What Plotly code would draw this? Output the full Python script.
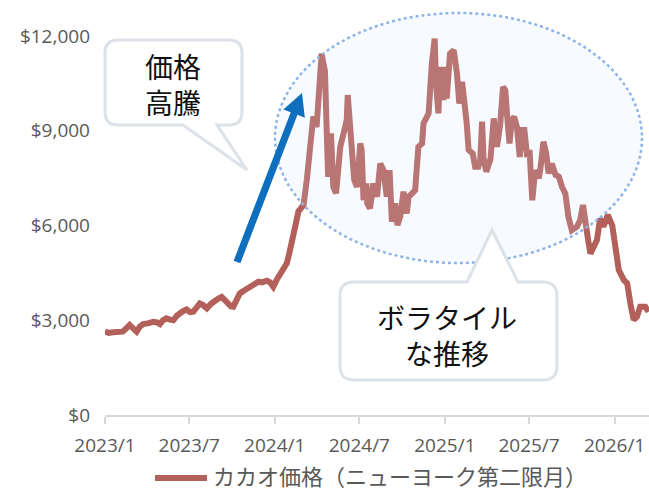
import math
import plotly.graph_objects as go

# ---------------- data ----------------
dates = [
    "2023-01-01", "2023-01-09", "2023-01-18", "2023-01-29", "2023-02-08", "2023-02-17", "2023-02-23",
    "2023-03-02", "2023-03-10", "2023-03-17", "2023-03-24", "2023-04-03", "2023-04-15", "2023-04-23",
    "2023-04-29", "2023-05-05", "2023-05-13", "2023-05-21", "2023-05-28", "2023-06-05", "2023-06-11",
    "2023-06-18", "2023-06-25", "2023-07-03", "2023-07-10", "2023-07-18", "2023-07-24", "2023-07-31",
    "2023-08-08", "2023-08-17", "2023-08-25", "2023-09-01", "2023-09-09", "2023-09-16", "2023-09-23",
    "2023-09-29", "2023-10-04", "2023-10-12", "2023-10-18", "2023-10-29", "2023-11-09", "2023-11-17",
    "2023-11-27", "2023-12-05", "2023-12-15", "2023-12-22", "2023-12-29",
    "2024-01-06", "2024-01-12", "2024-01-19", "2024-01-27", "2024-02-01", "2024-02-05", "2024-02-10",
    "2024-02-14", "2024-02-21", "2024-02-27", "2024-03-03", "2024-03-10", "2024-03-17", "2024-03-24",
    "2024-03-31", "2024-04-04", "2024-04-08", "2024-04-11", "2024-04-15", "2024-04-18", "2024-04-22",
    "2024-04-25", "2024-05-01", "2024-05-06", "2024-05-12", "2024-05-17", "2024-05-21", "2024-05-28",
    "2024-06-04", "2024-06-06", "2024-06-11", "2024-06-15", "2024-06-20", "2024-06-26", "2024-07-03",
    "2024-07-06", "2024-07-10", "2024-07-16", "2024-07-18", "2024-07-24", "2024-07-31", "2024-08-08",
    "2024-08-15", "2024-08-22", "2024-08-29", "2024-09-04", "2024-09-09", "2024-09-16", "2024-09-21",
    "2024-09-27", "2024-10-04", "2024-10-11", "2024-10-15", "2024-10-22", "2024-10-29", "2024-11-05",
    "2024-11-13", "2024-11-16", "2024-11-27", "2024-12-04", "2024-12-10", "2024-12-13", "2024-12-18",
    "2024-12-22", "2024-12-29",
    "2025-01-02", "2025-01-05", "2025-01-12", "2025-01-20", "2025-01-27", "2025-02-01", "2025-02-07",
    "2025-02-12", "2025-02-17", "2025-02-21", "2025-03-02", "2025-03-07", "2025-03-14", "2025-03-18",
    "2025-03-22", "2025-03-25", "2025-03-31", "2025-04-09", "2025-04-12", "2025-04-16", "2025-04-23",
    "2025-04-30", "2025-05-06", "2025-05-11", "2025-05-15", "2025-05-20", "2025-05-25", "2025-05-30",
    "2025-06-05", "2025-06-11", "2025-06-16", "2025-06-21", "2025-06-27", "2025-07-02", "2025-07-08",
    "2025-07-14", "2025-07-22", "2025-07-25", "2025-08-01", "2025-08-07", "2025-08-12", "2025-08-19",
    "2025-08-27", "2025-09-03", "2025-09-10", "2025-09-17", "2025-09-24", "2025-10-01", "2025-10-12",
    "2025-10-19", "2025-10-25", "2025-10-30", "2025-11-06", "2025-11-10", "2025-11-17", "2025-11-24",
    "2025-12-01", "2025-12-08", "2025-12-16", "2025-12-19", "2025-12-27",
    "2026-01-03", "2026-01-10", "2026-01-21", "2026-01-28", "2026-02-04", "2026-02-11", "2026-02-18",
    "2026-02-25", "2026-03-08", "2026-03-15",
]
cocoa_price = [
    2640, 2600, 2620, 2610, 2640, 2760, 2850,
    2750, 2640, 2800, 2880, 2900, 2950, 2930,
    2880, 2990, 3060, 3020, 3000, 3150, 3240,
    3290, 3340, 3260, 3270, 3420, 3530, 3480,
    3380, 3520, 3640, 3680, 3740, 3620, 3480,
    3440, 3430, 3640, 3850, 3960, 4060, 4150,
    4220, 4200, 4250, 4200, 4060,
    4300, 4430, 4650, 4800, 5100, 5440, 5640,
    5960, 6450, 6560, 6650, 7440, 8400, 9450,
    9120, 10300, 10900, 11440, 11100, 10900, 8920,
    7540, 8920, 7220, 7020, 7650, 8490, 8910,
    9340, 10130, 9340, 8700, 7440, 7220, 8600,
    8390, 6800, 7330, 6700, 6540, 7330, 6910,
    7960, 7750, 6910, 7750, 6120, 6700, 6010,
    6280, 7070, 6380, 6910, 7010, 7120, 8490,
    8600, 9230, 9550, 11130, 11920, 10500, 9550,
    11020, 9970,
    11020, 10020, 11440, 11550, 10810, 9860, 10550,
    9970, 9230, 8390, 8280, 7860, 7860, 8070,
    9290, 8170, 7700, 8100, 9020, 9390, 8490,
    9200, 10390, 10280, 9440, 8600, 9340, 9440,
    9120, 8170, 9020, 9020, 8170, 8390, 6800,
    7750, 7500, 7750, 8650, 8280, 7650, 7960,
    7600, 7550, 7220, 7010, 6250, 5850, 5960,
    6170, 6650, 6000, 5450, 5110, 5320, 5540,
    6220, 5960, 6280, 6280, 6000,
    5400, 4590, 4270, 4170, 3530, 3010, 3110,
    3430, 3430, 3270,
]
series_name = "カカオ価格（ニューヨーク第二限月）"
x_tick_dates = ["2023-01-01", "2023-07-01", "2024-01-01", "2024-07-01",
                "2025-01-01", "2025-07-01", "2026-01-01"]
x_tick_labels = ["2023/1", "2023/7", "2024/1", "2024/7", "2025/1", "2025/7", "2026/1"]
y_tick_values = [0, 3000, 6000, 9000, 12000]
y_tick_labels = ["$0", "$3,000", "$6,000", "$9,000", "$12,000"]
bubble_texts = ["価格<br>高騰", "ボラタイル<br>な推移"]

# ---------------- layout geometry ----------------
W, H = 649, 490
L, R, T, B = 105, 649, 36, 415   # plot area in screen pixels


def px(X):
    return (X - L) / (R - L)


def py(Y):
    return (B - Y) / (B - T)


def path_from(cmds, close=True):
    out = []
    for c in cmds:
        op = c[0]
        pts = c[1:]
        s = op
        for (X, Y) in pts:
            s += " %.5f,%.5f" % (px(X), py(Y))
        out.append(s)
    return " ".join(out) + (" Z" if close else "")


def bubble(x0, y0, x1, y1, r, tail_side, ta, tip, tb):
    cmds = [("M", (x0 + r, y0))]
    if tail_side == "top":
        cmds += [("L", (ta, y0)), ("L", tip), ("L", (tb, y0))]
    cmds += [("L", (x1 - r, y0)), ("Q", (x1, y0), (x1, y0 + r)),
             ("L", (x1, y1 - r)), ("Q", (x1, y1), (x1 - r, y1))]
    if tail_side == "bottom":
        cmds += [("L", (tb, y1)), ("L", tip), ("L", (ta, y1))]
    cmds += [("L", (x0 + r, y1)), ("Q", (x0, y1), (x0, y1 - r)),
             ("L", (x0, y0 + r)), ("Q", (x0, y0), (x0 + r, y0))]
    return path_from(cmds)


def arrow(tail, tip, shaft_hw, head_len, head_hw):
    dx, dy = tip[0] - tail[0], tip[1] - tail[1]
    ln = math.hypot(dx, dy)
    ux, uy = dx / ln, dy / ln
    nx, ny = -uy, ux
    bx, by = tip[0] - head_len * ux, tip[1] - head_len * uy
    pts = [
        (tail[0] + shaft_hw * nx, tail[1] + shaft_hw * ny),
        (bx + shaft_hw * nx, by + shaft_hw * ny),
        (bx + head_hw * nx, by + head_hw * ny),
        tip,
        (bx - head_hw * nx, by - head_hw * ny),
        (bx - shaft_hw * nx, by - shaft_hw * ny),
        (tail[0] - shaft_hw * nx, tail[1] - shaft_hw * ny),
    ]
    cmds = [("M", pts[0])] + [("L", p) for p in pts[1:]]
    return path_from(cmds)


LINE_COLOR = "#B4605A"
TEXT_GRAY = "#595959"
AXIS_GRAY = "#D9D9D9"
BUBBLE_EDGE = "#DCE2E7"
FONT = "Open Sans, Noto Sans CJK JP, sans-serif"
CJK = "Noto Sans CJK JP, sans-serif"

fig = go.Figure()
fig.add_trace(go.Scatter(
    x=dates, y=cocoa_price, mode="lines", name=series_name,
    line=dict(color=LINE_COLOR, width=6), showlegend=False,
))

shapes = [
    # volatility ellipse
    dict(type="circle", xref="paper", yref="paper",
         x0=px(275), x1=px(642), y0=py(263), y1=py(13),
         fillcolor="rgba(205,228,250,0.17)",
         line=dict(color="#8EB4E6", width=2.5, dash="dot"), layer="above"),
    # rising arrow
    dict(type="path", xref="paper", yref="paper",
         path=arrow((237, 262), (302, 93), 3.6, 22, 11.5),
         fillcolor="#0D6FBE", line=dict(width=0), layer="above"),
    # bubble 1
    dict(type="path", xref="paper", yref="paper",
         path=bubble(105, 40, 242, 125, 13, "bottom", 183, (247, 170), 217),
         fillcolor="white", line=dict(color=BUBBLE_EDGE, width=3), layer="above"),
    # bubble 2
    dict(type="path", xref="paper", yref="paper",
         path=bubble(340, 282, 557, 380, 14, "top", 467, (492, 230), 518),
         fillcolor="white", line=dict(color=BUBBLE_EDGE, width=3), layer="above"),
    # legend swatch
    dict(type="path", xref="paper", yref="paper",
         path=path_from([("M", (155, 478)), ("L", (207, 478))], close=False),
         line=dict(color=LINE_COLOR, width=6), layer="above"),
]

annotations = [
    dict(xref="paper", yref="paper", x=px(173), y=py(84), text=bubble_texts[0],
         showarrow=False, xanchor="center", yanchor="middle",
         font=dict(family=CJK, size=28, color="#111111")),
    dict(xref="paper", yref="paper", x=px(447), y=py(335), text=bubble_texts[1],
         showarrow=False, xanchor="center", yanchor="middle",
         font=dict(family=CJK, size=28, color="#111111")),
    # legend label
    dict(xref="paper", yref="paper", x=px(211), y=py(475), text=series_name,
         showarrow=False, xanchor="left", yanchor="middle",
         font=dict(family=CJK, size=22, color=TEXT_GRAY)),
]

fig.update_layout(
    width=W, height=H,
    margin=dict(l=L, r=W - R, t=T, b=H - B, autoexpand=False),
    paper_bgcolor="white", plot_bgcolor="white",
    font=dict(family=FONT, size=19, color=TEXT_GRAY),
    shapes=shapes, annotations=annotations,
    showlegend=False,
    xaxis=dict(
        type="date", range=["2023-01-01", "2026-03-16"],
        tickvals=x_tick_dates, ticktext=x_tick_labels,
        showgrid=False, zeroline=False, automargin=False,
        showline=True, linecolor=AXIS_GRAY, linewidth=2,
        ticks="outside", ticklen=7, tickwidth=2, tickcolor=AXIS_GRAY,
        tickfont=dict(family=FONT, size=19, color=TEXT_GRAY),
        ticklabelstandoff=5,
    ),
    yaxis=dict(
        range=[0, 12000], tickvals=y_tick_values, ticktext=y_tick_labels,
        showgrid=False, zeroline=False, showline=False, ticks="", automargin=False,
        tickfont=dict(family=FONT, size=19, color=TEXT_GRAY),
        ticklabelstandoff=14,
    ),
)

# place the figure at the very top-left of the page (no default body margin)
fig.write_html(
    "out.html",
    config={"displayModeBar": False},
    post_script="document.body.style.margin='0';document.body.style.overflow='hidden';",
)
